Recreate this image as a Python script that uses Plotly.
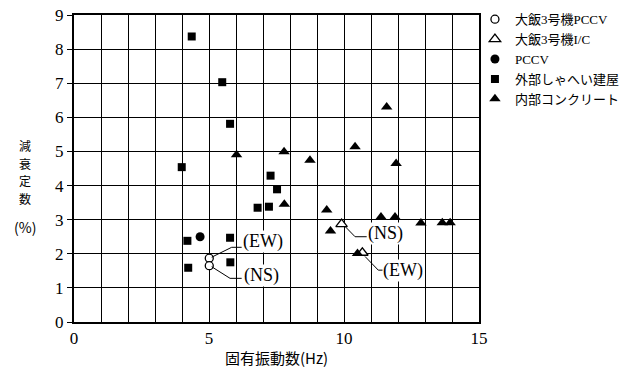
import plotly.graph_objects as go

# Natural frequency (Hz) vs damping ratio (%)
ohi_pccv_x = [5.01, 5.01]
ohi_pccv_y = [1.87, 1.65]

ohi_ic_x = [9.91, 10.68]
ohi_ic_y = [2.87, 2.03]

pccv_x = [4.67]
pccv_y = [2.50]

shield_x = [4.36, 5.49, 5.78, 3.99, 7.28, 7.52, 6.80, 7.22, 4.20, 5.78, 5.79, 4.23]
shield_y = [8.37, 7.03, 5.81, 4.54, 4.29, 3.89, 3.35, 3.38, 2.38, 2.47, 1.75, 1.59]

inner_x = [6.02, 7.78, 8.74, 10.41, 11.58, 11.93, 7.79, 9.36, 9.50, 10.50,
           11.37, 11.89, 12.85, 13.64, 13.93]
inner_y = [4.90, 4.99, 4.74, 5.14, 6.30, 4.65, 3.45, 3.28, 2.67, 2.01,
           3.08, 3.08, 2.90, 2.91, 2.91]

# grid every 1 Hz, labels only every 5 Hz
x_grid = list(range(0, 16))
x_ticktext = [str(v) if v % 5 == 0 else "" for v in x_grid]
y_ticks = list(range(0, 10))

SERIF = "Liberation Serif, Noto Sans CJK JP"
JP = "Noto Sans CJK JP, Liberation Serif"

fig = go.Figure()
fig.add_trace(go.Scatter(
    x=ohi_pccv_x, y=ohi_pccv_y, mode="markers", name="大飯3号機PCCV",
    marker=dict(symbol="circle", size=8, color="white",
                line=dict(color="black", width=1.3))))
fig.add_trace(go.Scatter(
    x=ohi_ic_x, y=ohi_ic_y, mode="markers", name="大飯3号機I/C",
    marker=dict(symbol="triangle-up", size=10, color="white",
                line=dict(color="black", width=1.3))))
fig.add_trace(go.Scatter(
    x=pccv_x, y=pccv_y, mode="markers", name="PCCV",
    marker=dict(symbol="circle", size=9, color="black")))
fig.add_trace(go.Scatter(
    x=shield_x, y=shield_y, mode="markers", name="外部しゃへい建屋",
    marker=dict(symbol="square", size=8, color="black")))
fig.add_trace(go.Scatter(
    x=inner_x, y=inner_y, mode="markers", name="内部コンクリート",
    marker=dict(symbol="triangle-up", size=10, color="black")))

# Leader lines from the Ohi-3 points to their direction labels
leaders = [
    [(5.10, 1.90), (5.84, 2.19), (6.21, 2.19)],
    [(5.10, 1.62), (5.78, 1.28), (6.21, 1.28)],
    [(10.04, 2.80), (10.41, 2.50), (10.84, 2.50)],
    [(10.78, 1.92), (11.27, 1.52), (11.46, 1.52)],
]
for pts in leaders:
    path = "M " + " L ".join(f"{px},{py}" for px, py in pts)
    fig.add_shape(type="path", path=path, xref="x", yref="y",
                  line=dict(color="black", width=1))

labels = [(6.99, 2.36, "(EW)"), (6.95, 1.35, "(NS)"),
          (11.52, 2.58, "(NS)"), (12.20, 1.50, "(EW)")]
for lx, ly, txt in labels:
    fig.add_annotation(x=lx, y=ly, xref="x", yref="y", text=txt,
                       showarrow=False, font=dict(family=SERIF, size=18, color="black"),
                       bgcolor="white", borderpad=0)

# Vertical y-axis title: one character per row, then the unit
title_chars = ["減", "衰", "定", "数"]
row_px = [145.6, 163.2, 180.8, 198.4]
for ch, py in zip(title_chars, row_px):
    fig.add_annotation(x=-0.121, y=(322 - py) / 307, xref="paper", yref="paper",
                       text=ch, showarrow=False, xanchor="center", yanchor="middle",
                       font=dict(family=JP, size=12, color="black"))
fig.add_annotation(x=-0.121, y=(322 - 227) / 307, xref="paper", yref="paper",
                   text="(%)", showarrow=False, xanchor="center", yanchor="middle",
                   font=dict(family=JP, size=14, color="black"))

axis_common = dict(
    showline=True, linecolor="black", linewidth=2, mirror=True,
    showgrid=True, gridcolor="black", gridwidth=1.3,
    zeroline=False, tickfont=dict(family=SERIF, size=17, color="black"),
)

fig.update_xaxes(
    range=[0, 15], tickvals=x_grid, ticktext=x_ticktext, ticks="", **axis_common,
    title=dict(text="固有振動数(Hz)", font=dict(family=JP, size=15, color="black"),
               standoff=6),
)
fig.update_yaxes(
    range=[0, 9], tickvals=y_ticks, ticks="outside", ticklen=5,
    tickcolor="black", tickwidth=1.3, **axis_common,
)

fig.update_layout(
    width=626, height=371,
    margin=dict(l=74, r=147, t=15, b=49, autoexpand=False),
    paper_bgcolor="white", plot_bgcolor="white",
    showlegend=True,
    legend=dict(x=0.99, y=1.035, xanchor="left", yanchor="top",
                font=dict(family=SERIF, size=13, color="black"),
                itemwidth=30, tracegroupgap=0, bgcolor="rgba(0,0,0,0)"),
)

fig.write_html("out.html")
